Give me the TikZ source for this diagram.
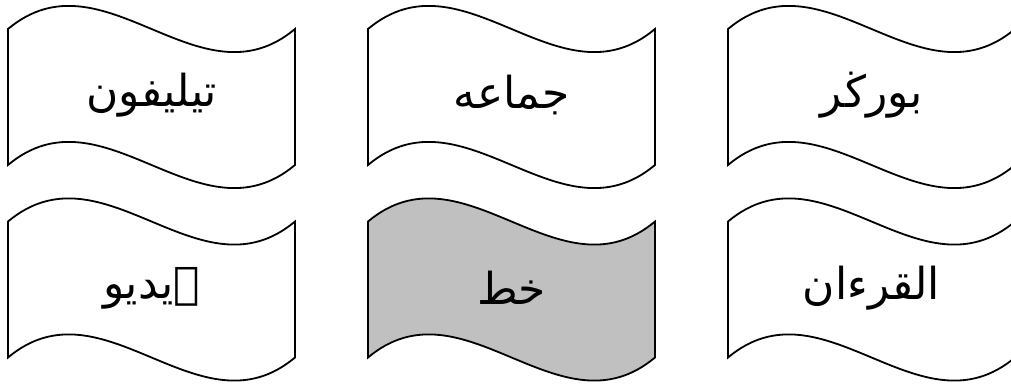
\documentclass[tikz,border=0pt]{standalone}
\usepackage{fontspec}
\newfontfamily\arabicfont[Script=Arabic]{DejaVu Sans}
\TeXXeTstate=1
\definecolor{flaggray}{RGB}{192,192,192}

\begin{document}
\begin{tikzpicture}[
  x=1pt, y=1pt,
  wave/.style={draw=black, line width=1.8pt, fill=white},
  wavegray/.style={wave, fill=flaggray},
  word/.style={font=\arabicfont\fontsize{44}{52}\selectfont, inner sep=0pt},
  flag/.pic={\path[pic actions] (-143.5,68) .. controls (-47.8,148) and (47.8,-12) .. (143.5,68)
     -- (143.5,-68) .. controls (47.8,-148) and (-47.8,12) .. (-143.5,-68) -- cycle;}
]
\useasboundingbox (0,0) rectangle (1011,385);
% top row
\pic[wave] at (151.5,288) {flag};
\pic[wave] at (511.5,288) {flag};
\pic[wave] at (871.5,288) {flag};
% bottom row
\pic[wave] at (151.5,95.5) {flag};
\pic[wavegray] at (511.5,95.5) {flag};
\pic[wave] at (871.5,95.5) {flag};
\node[word] (telefon) at (151.5,290) {\beginR تيليفون\endR};
\node[word] (jemaah) at (511.5,290) {\beginR جماعه\endR};
\node[word] (burger) at (871.5,290) {\beginR بورڬر\endR};
\node[word] (video) at (151.5,97) {\beginR ۏيديو\endR};
\node[word] (khat) at (511.5,97) {\beginR خط\endR};
\node[word] (quran) at (871.5,97) {\beginR القرءان\endR};
\end{tikzpicture}
\end{document}
